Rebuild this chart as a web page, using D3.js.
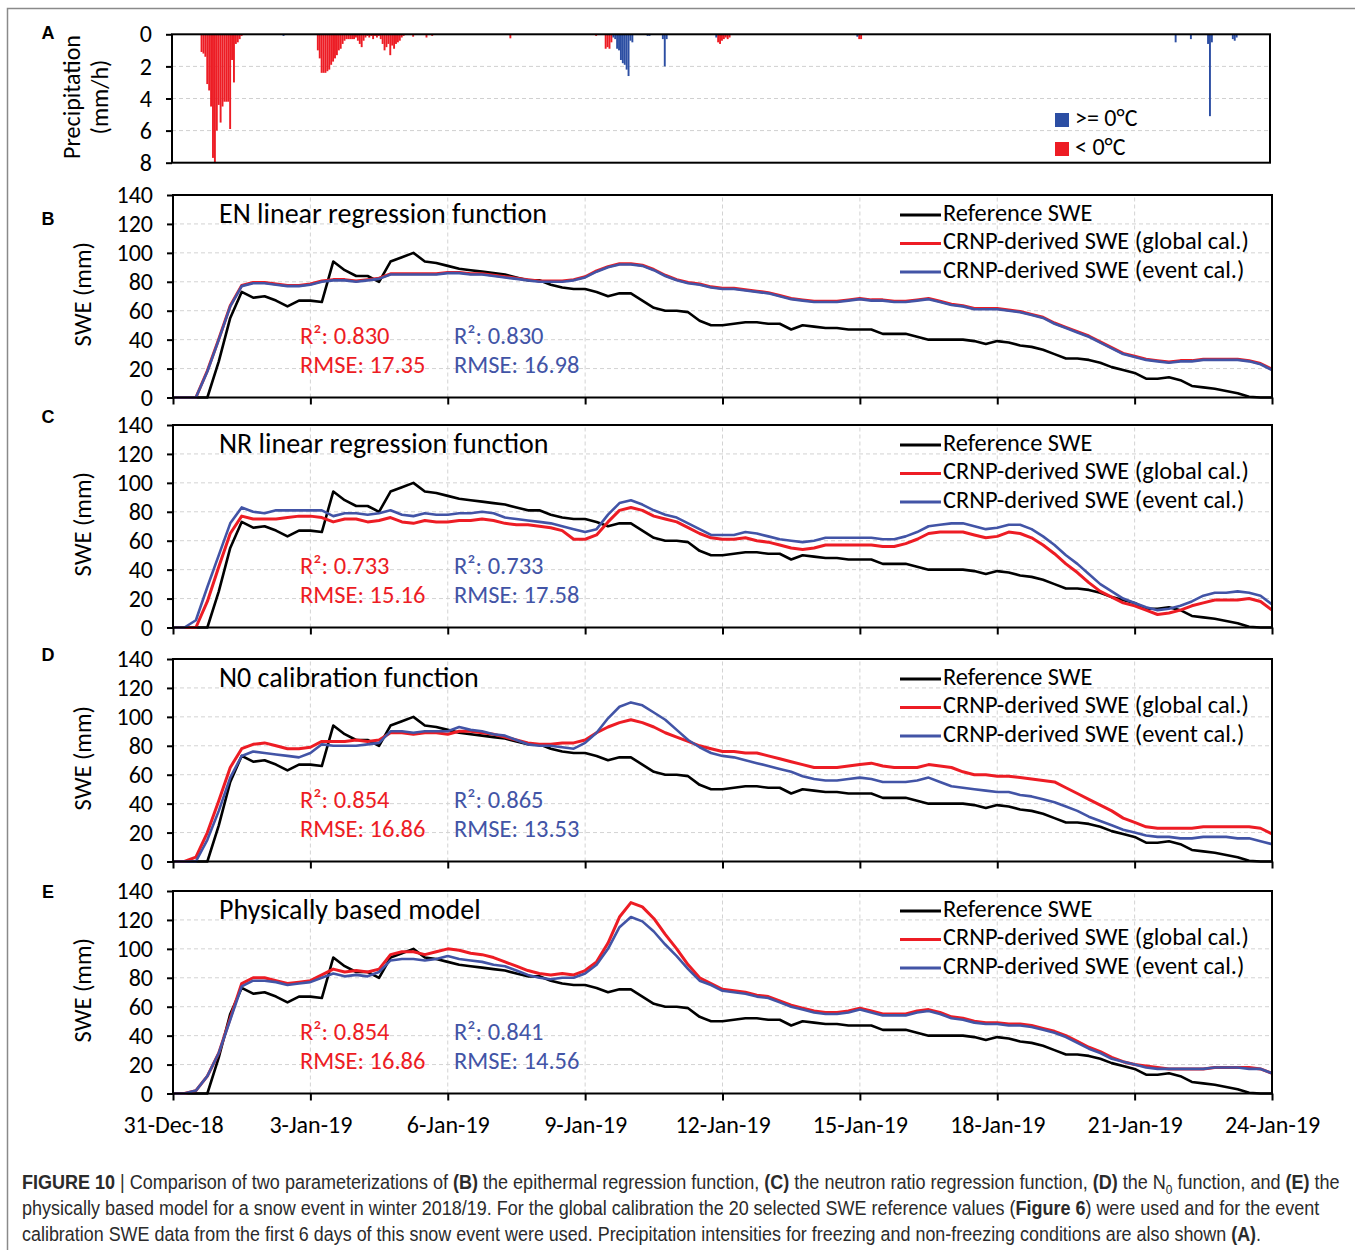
<!DOCTYPE html>
<html>
<head>
<meta charset="utf-8">
<script src="https://cdn.jsdelivr.net/npm/d3@7"></script>
<style>
  body { margin: 0; background: #fff; }
  svg { display: block; font-family: Carlito, Lato, "Open Sans", sans-serif; }
</style>
</head>
<body>
<div id="chart"></div>
<script>
//data: SWE series sampled every 6 h from 31-Dec-18 00:00 (97 samples)
var sampleStep = 6;
var referenceSWE = [
  0,0,0,0, 25,55,73,69, 70,67,63,67,
  67,66,94,88, 84,84,80,94, 97,100,94,93,
  91,89,88,87, 86,85,83,81, 81,78,76,75,
  75,73,70,72, 72,67,62,60, 60,59,53,50,
  50,51,52,52, 51,51,47,50, 49,48,48,47,
  47,47,44,44, 44,42,40,40, 40,40,39,37,
  39,38,36,35, 33,30,27,27, 26,24,21,19,
  17,13,13,14, 12,8,7,6, 4.5,3,0.5,0,
  0];
var enGlobal = [
  0,0,0,18.5, 40.5,63.5,77.5,79.5, 79.5,78.5,77.5,77.5,
  78.5,80.5,81.5,81.5, 80.5,81.5,82.5,85.5, 85.5,85.5,85.5,85.5,
  86.5,86.5,85.5,85.5, 84.5,83.5,82.5,81.5, 80.5,80.5,80.5,81.5,
  83.5,87.5,90.5,92.5, 92.5,91.5,88.5,84.5, 81.5,79.5,78.5,76.5,
  75.5,75.5,74.5,73.5, 72.5,70.5,68.5,67.5, 66.5,66.5,66.5,67.5,
  68.5,67.5,67.5,66.5, 66.5,67.5,68.5,66.5, 64.5,63.5,61.5,61.5,
  61.5,60.5,59.5,57.5, 55.5,51.5,48.5,45.5, 42.5,38.5,34.5,30.5,
  28.5,26.5,25.5,24.5, 25.5,25.5,26.5,26.5, 26.5,26.5,25.5,23.5,
  19.5];
var enEvent = [
  0,0,0,18, 40,63,77,79, 79,78,77,77,
  78,80,81,81, 80,81,82,85, 85,85,85,85,
  86,86,85,85, 84,83,82,81, 80,80,80,81,
  83,87,90,92, 92,91,88,84, 81,79,78,76,
  75,75,74,73, 72,70,68,67, 66,66,66,67,
  68,67,67,66, 66,67,68,66, 64,63,61,61,
  61,60,59,57, 55,51,48,45, 42,38,34,30,
  28,26,25,24, 25,25,26,26, 26,26,25,23,
  19];
var nrGlobal = [
  0,0,0,18, 42,65,77,75, 75,75,76,77,
  77,76,73,75, 75,73,74,76, 73,72,74,73,
  73,74,74,75, 74,72,71,71, 70,69,67,61,
  61,64,73,81, 83,81,77,75, 73,69,65,62,
  61,61,62,60, 59,57,55,54, 55,57,57,57,
  57,57,56,56, 58,61,65,66, 66,66,64,62,
  63,66,65,62, 57,51,44,38, 31,25,21,17,
  15,12,9,10, 12,15,17,19, 19,19,20,18,
  12];
var nrEvent = [
  0,0,5,28, 50,72,83,80, 79,81,81,81,
  81,81,77,79, 79,78,79,81, 78,77,79,78,
  78,79,79,80, 79,76,75,74, 73,72,70,68,
  66,68,78,86, 88,85,81,78, 76,72,68,64,
  64,64,66,65, 63,61,60,59, 60,62,62,62,
  62,62,61,61, 63,66,70,71, 72,72,70,68,
  69,71,71,68, 63,57,50,44, 37,30,25,20,
  17,14,12,13, 15,18,22,24, 24,25,24,22,
  16];
var n0Global = [
  0,0,3,20, 42,65,78,81, 82,80,78,78,
  79,83,83,83, 84,83,84,89, 89,88,89,89,
  88,90,90,89, 88,86,84,82, 81,81,82,82,
  84,89,93,96, 98,96,93,89, 86,83,80,78,
  76,76,75,75, 73,71,69,67, 65,65,65,66,
  67,68,66,65, 65,65,67,66, 65,62,60,60,
  59,59,58,57, 56,55,51,47, 43,39,35,30,
  27,24,23,23, 23,23,24,24, 24,24,24,23,
  19];
var n0Event = [
  0,0,0,15, 35,58,73,76, 75,74,73,72,
  75,81,80,80, 80,81,82,90, 90,89,90,90,
  90,93,91,90, 88,87,84,81, 80,80,79,78,
  82,89,99,107, 110,108,103,98, 91,84,79,75,
  73,72,70,68, 66,64,62,59, 57,56,56,57,
  58,57,55,55, 55,56,58,55, 52,51,50,49,
  48,48,46,45, 43,41,38,35, 31,28,25,22,
  20,18,17,17, 16,16,17,17, 17,16,16,14,
  12];
var physGlobal = [
  0,0,2,12, 28,52,76,80, 80,78,76,77,
  78,82,86,84, 85,84,86,96, 98,98,96,98,
  100,99,97,96, 94,91,88,85, 83,82,83,82,
  85,91,104,122, 132,129,121,110, 100,89,80,76,
  72,71,70,68, 67,64,61,59, 57,56,56,57,
  59,57,55,55, 55,57,58,56, 53,52,50,49,
  49,48,48,47, 45,43,40,36, 32,29,25,22,
  20,19,18,17, 17,17,17,18, 18,18,18,17,
  14];
var physEvent = [
  0,0,2,12, 28,51,74,78, 78,77,75,76,
  77,80,83,81, 82,81,84,92, 93,93,92,93,
  95,93,92,91, 89,88,85,82, 80,79,80,80,
  83,89,100,115, 122,119,112,103, 95,86,78,75,
  71,70,69,67, 66,63,60,58, 56,55,55,56,
  58,56,54,54, 54,56,57,55, 52,51,49,48,
  48,47,47,46, 44,42,39,35, 31,28,24,22,
  20,18,17,17, 17,17,17,18, 18,18,17,17,
  14];

//hourly precipitation (mm/h), runs of consecutive hours from 31-Dec-18 00:00
var coldStartHours = [15, 76, 126, 133, 136, 177, 222, 227, 286, 360];
var coldPrecip = [
  [1.1,1.2,1.4,3.1,3.5,4.5,7.7,8.0,6.0,4.4,5.5,4.5,4.2,4.2,4.2,5.9,1.6,3.0,0.6,0.5,0.3,0.1],
  [1.0,1.5,2.4,2.4,2.4,2.3,2.2,1.9,1.7,1.5,1.3,1.0,0.9,0.6,0.4,0.3,0.3,0.3,0.3,0.3,0.2,0.4,0.6,0.8,0.4,0.2,0.1,0.2,0.1,0.3,0.1,0.2,0.1,0.3,0.6,1.0,0.8,0.6,1.3,0.7,0.9,0.6,0.5,0.4,0.2,0.1],
  [0.15], [0.2], [0.1], [0.25], [0.1],
  [0.9,0.8,0.9,0.5],
  [0.5,0.6,0.4,0.3,0.2,0.3,0.2],
  [0.3,0.3]
];
var warmStartHours = [58, 231, 249, 257, 285, 359, 526, 534, 543, 556];
var warmPrecip = [
  [0.1],
  [0.2,0.3,0.9,1.0,1.6,1.8,1.9,2.2,2.6,0.4,0.5],
  [0.1,0.1],
  [0.3,2.0,0.3],
  [0.2], [0.15], [0.5], [0.3],
  [0.6,5.1,0.5],
  [0.3,0.4,0.2]
];

var panelLetters = ["B", "C", "D", "E"];
var panelTitles = ["EN linear regression function", "NR linear regression function",
                   "N0 calibration function", "Physically based model"];
var globalSeries = [enGlobal, nrGlobal, n0Global, physGlobal];
var eventSeries = [enEvent, nrEvent, n0Event, physEvent];
var r2Global = ["0.830", "0.733", "0.854", "0.854"];
var r2Event = ["0.830", "0.733", "0.865", "0.841"];
var rmseGlobal = ["17.35", "15.16", "16.86", "16.86"];
var rmseEvent = ["16.98", "17.58", "13.53", "14.56"];
var legendLabels = ["Reference SWE", "CRNP-derived SWE (global cal.)", "CRNP-derived SWE (event cal.)"];
var precipLabels = [">= 0°C", "< 0°C"];
var swTicks = [0, 20, 40, 60, 80, 100, 120, 140];
var precipTicks = [0, 2, 4, 6, 8];

//colors
var RED = "#ed1c24", BLUE = "#4254a6", PBLUE = "#2c4ea3";
var FONT = "Carlito, Lato, 'Open Sans', sans-serif";

var svg = d3.select("#chart").append("svg")
  .attr("width", 1355)
  .attr("height", 1250);

//outer frame
svg.append("rect")
  .attr("x", 7.5).attr("y", 8.5)
  .attr("width", 1400).attr("height", 1300)
  .attr("fill", "none").attr("stroke", "#8a8a8a").attr("stroke-width", 1.5);

//time scales
var t0 = new Date(2018, 11, 31);
var tEnd = d3.timeDay.offset(t0, 24);
var x = d3.scaleTime().domain([t0, tEnd]).range([173, 1272]);
var xA = d3.scaleTime().domain([t0, tEnd]).range([172, 1270]);
var dateTicks = d3.range(0, 25, 3).map(d => d3.timeDay.offset(t0, d));
var fmt = d3.timeFormat("%-d-%b-%y");

function styleAxis(g, size) {
  g.select(".domain").remove();
  g.selectAll(".tick line").attr("stroke", "#000").attr("stroke-width", 2);
  g.selectAll(".tick text")
    .attr("fill", "#000")
    .style("font-size", size + "px")
    .style("font-family", FONT);
}

// ---------- panel A: precipitation ----------
var yA = d3.scaleLinear().domain([0, 8]).range([34.3, 162.7]);
var gA = svg.append("g");

gA.selectAll(".gridA")
  .data([2, 4, 6])
  .enter().append("line")
  .attr("x1", xA.range()[0]).attr("x2", xA.range()[1])
  .attr("y1", d => yA(d)).attr("y2", d => yA(d))
  .attr("stroke", "#d0d0d0").attr("stroke-dasharray", "4,3");

function drawBars(starts, runs, color) {
  var bars = [];
  runs.forEach(function(run, k) {
    run.forEach(function(v, i) {
      bars.push({h: starts[k] + i, v: v});
    });
  });
  gA.selectAll(null)
    .data(bars)
    .enter().append("rect")
    .attr("x", d => xA(d3.timeHour.offset(t0, d.h)))
    .attr("width", d => xA(d3.timeHour.offset(t0, d.h + 1)) - xA(d3.timeHour.offset(t0, d.h)))
    .attr("y", yA(0))
    .attr("height", d => yA(d.v) - yA(0))
    .attr("fill", color);
}
drawBars(coldStartHours, coldPrecip, RED);
drawBars(warmStartHours, warmPrecip, PBLUE);

gA.append("rect")
  .attr("x", xA.range()[0]).attr("y", yA(0))
  .attr("width", xA.range()[1] - xA.range()[0]).attr("height", yA(8) - yA(0))
  .attr("fill", "none").attr("stroke", "#000").attr("stroke-width", 2);

gA.append("g")
  .attr("transform", `translate(${xA.range()[0]},0)`)
  .call(d3.axisLeft(yA).tickValues(precipTicks).tickSize(6).tickPadding(14))
  .call(styleAxis, 24);

//precip legend
precipLabels.forEach(function(lab, i) {
  gA.append("rect")
    .attr("x", 1055).attr("y", 113 + i * 29)
    .attr("width", 14).attr("height", 14)
    .attr("fill", i === 0 ? PBLUE : RED);
  gA.append("text")
    .attr("x", 1075).attr("y", 120 + i * 29)
    .attr("dominant-baseline", "middle")
    .style("font-size", "24px")
    .text(lab);
});

//axis title A
var titleA = gA.append("text")
  .attr("transform", "translate(86,97) rotate(-90)")
  .attr("text-anchor", "middle")
  .style("font-size", "24px");
titleA.append("tspan").attr("x", 0).attr("dy", "-0.25em").text("Precipitation");
titleA.append("tspan").attr("x", 0).attr("dy", "1.15em").text("(mm/h)");

svg.append("text")
  .attr("x", 48).attr("y", 34)
  .attr("text-anchor", "middle").attr("dominant-baseline", "middle")
  .style("font-family", "'Liberation Sans', Arial, sans-serif")
  .style("font-weight", "bold").style("font-size", "18px")
  .text("A");

// ---------- panels B-E: SWE ----------
var panelTops = [195, 425, 659, 891];
var panelH = 202.5;
var letterY = [220, 418, 656, 893];

panelTops.forEach(function(top, p) {
  var y = d3.scaleLinear().domain([0, 140]).range([top + panelH, top]);
  var g = svg.append("g");

  //grid
  g.selectAll(null)
    .data(swTicks.slice(1, -1))
    .enter().append("line")
    .attr("x1", x.range()[0]).attr("x2", x.range()[1])
    .attr("y1", d => y(d)).attr("y2", d => y(d))
    .attr("stroke", "#d3d3d3").attr("stroke-dasharray", "4,3");
  g.selectAll(null)
    .data(dateTicks.slice(1, -1))
    .enter().append("line")
    .attr("x1", d => x(d)).attr("x2", d => x(d))
    .attr("y1", y(0)).attr("y2", y(140))
    .attr("stroke", "#d3d3d3").attr("stroke-dasharray", "4,3");

  var line = d3.line()
    .x((d, i) => x(d3.timeHour.offset(t0, i * sampleStep)))
    .y(d => y(d));

  g.append("path").datum(referenceSWE)
    .attr("d", line).attr("fill", "none")
    .attr("stroke", "#000").attr("stroke-width", 2.6).attr("stroke-linejoin", "round");
  g.append("path").datum(globalSeries[p])
    .attr("d", line).attr("fill", "none")
    .attr("stroke", RED).attr("stroke-width", 3).attr("stroke-linejoin", "round");
  g.append("path").datum(eventSeries[p])
    .attr("d", line).attr("fill", "none")
    .attr("stroke", BLUE).attr("stroke-width", 2.6).attr("stroke-linejoin", "round");

  //frame
  g.append("rect")
    .attr("x", x.range()[0]).attr("y", top)
    .attr("width", x.range()[1] - x.range()[0]).attr("height", panelH)
    .attr("fill", "none").attr("stroke", "#000").attr("stroke-width", 2);

  //axes
  g.append("g")
    .attr("transform", `translate(${x.range()[0]},0)`)
    .call(d3.axisLeft(y).tickValues(swTicks).tickSize(6).tickPadding(14))
    .call(styleAxis, 24);
  var xAxis = d3.axisBottom(x).tickValues(dateTicks).tickSize(7).tickPadding(15)
    .tickFormat(p === 3 ? fmt : "");
  g.append("g")
    .attr("transform", `translate(0,${top + panelH})`)
    .call(xAxis)
    .call(styleAxis, 24);

  //y title
  g.append("text")
    .attr("transform", `translate(85,${top + panelH / 2 - 2}) rotate(-90)`)
    .attr("text-anchor", "middle").attr("dominant-baseline", "middle")
    .style("font-size", "24.5px")
    .text("SWE (mm)");

  //panel letter
  svg.append("text")
    .attr("x", 48).attr("y", letterY[p])
    .attr("text-anchor", "middle").attr("dominant-baseline", "middle")
    .style("font-family", "'Liberation Sans', Arial, sans-serif")
    .style("font-weight", "bold").style("font-size", "18px")
    .text(panelLetters[p]);

  //panel title
  g.append("text")
    .attr("x", 219).attr("y", top + 21)
    .attr("dominant-baseline", "middle")
    .style("font-size", "28px")
    .text(panelTitles[p]);

  //legend
  var legColors = ["#000", RED, BLUE];
  legendLabels.forEach(function(lab, i) {
    var ly = top + 20 + i * 28.5;
    g.append("line")
      .attr("x1", 900).attr("x2", 941).attr("y1", ly).attr("y2", ly)
      .attr("stroke", legColors[i]).attr("stroke-width", 3);
    g.append("text")
      .attr("x", 943).attr("y", ly)
      .attr("dominant-baseline", "middle")
      .style("font-size", "24.4px")
      .text(lab);
  });

  //stats
  var stats = [
    {x: 300, c: RED, r2: r2Global[p], rmse: rmseGlobal[p]},
    {x: 454, c: BLUE, r2: r2Event[p], rmse: rmseEvent[p]}
  ];
  stats.forEach(function(s) {
    g.append("text")
      .attr("x", s.x).attr("y", top + 143)
      .attr("dominant-baseline", "middle")
      .attr("fill", s.c).style("font-size", "24.5px")
      .text("R²: " + s.r2);
    g.append("text")
      .attr("x", s.x).attr("y", top + 172)
      .attr("dominant-baseline", "middle")
      .attr("fill", s.c).style("font-size", "24.5px")
      .text("RMSE: " + s.rmse);
  });
});

// ---------- caption ----------
var capLines = [
  {y: 1189, len: 1318, parts: [
    ["FIGURE 10", "b"], [" | Comparison of two parameterizations of "], ["(B)", "b"],
    [" the epithermal regression function, "], ["(C)", "b"], [" the neutron ratio regression function, "],
    ["(D)", "b"], [" the N"], ["0", "sub"], [" function, and ", "up"], ["(E)", "b"], [" the"]]},
  {y: 1215, len: 1298, parts: [
    ["physically based model for a snow event in winter 2018/19. For the global calibration the 20 selected SWE reference values ("],
    ["Figure 6", "b"], [") were used and for the event"]]},
  {y: 1241, len: 1240, parts: [
    ["calibration SWE data from the first 6 days of this snow event were used. Precipitation intensities for freezing and non-freezing conditions are also shown "],
    ["(A)", "b"], ["."]]}
];
capLines.forEach(function(cl) {
  var t = svg.append("text")
    .attr("x", 0).attr("y", 0)
    .attr("fill", "#2b2b2b")
    .style("font-family", "'Liberation Sans Narrow', 'Arial Narrow', 'Liberation Sans', sans-serif")
    .style("font-size", "19.5px");
  cl.parts.forEach(function(pt) {
    var s = t.append("tspan").text(pt[0]);
    if (pt[1] === "b") s.style("font-weight", "bold");
    if (pt[1] === "sub") s.attr("dy", 5).style("font-size", "13px");
    if (pt[1] === "up") s.attr("dy", -5);
  });
  //squeeze to the condensed width of the printed caption
  var w = t.node().getComputedTextLength();
  t.attr("transform", `translate(22,${cl.y}) scale(${cl.len / w},1)`);
});
</script>
</body>
</html>
